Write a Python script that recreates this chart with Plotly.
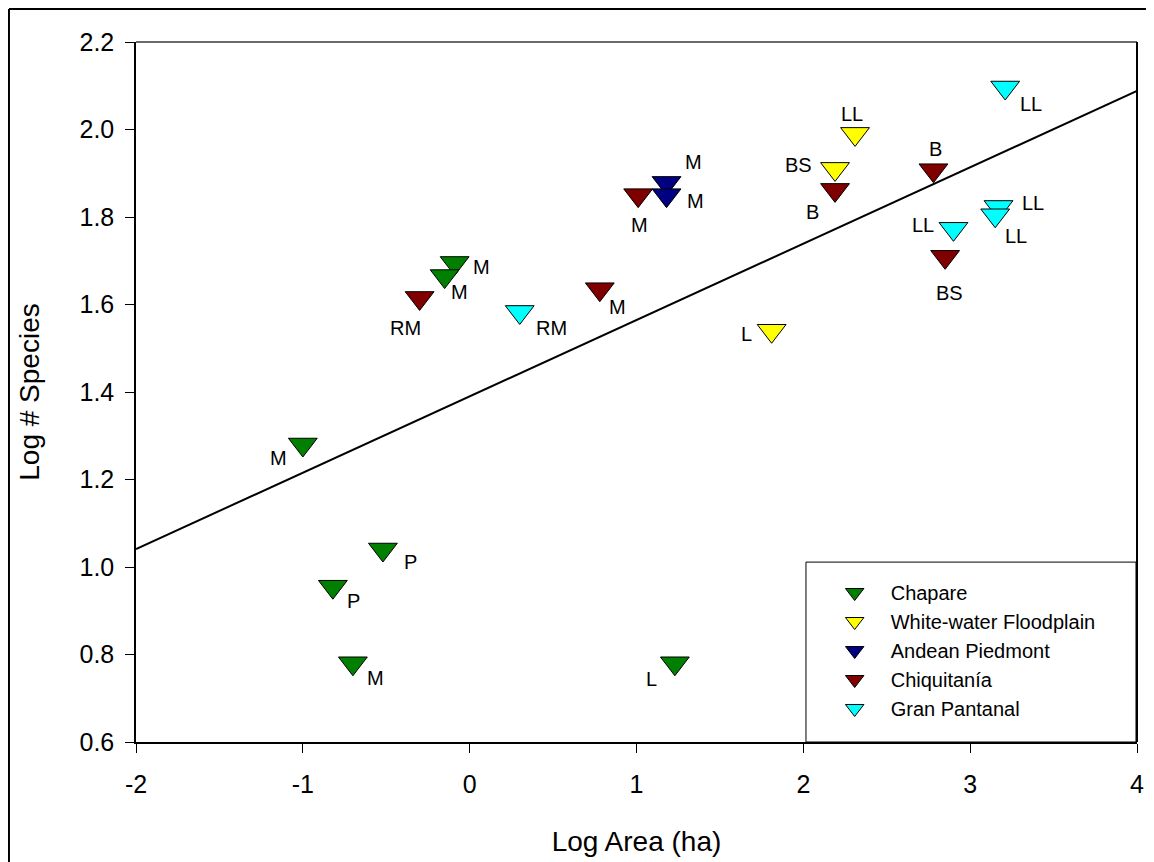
import plotly.graph_objects as go

# ---------------- data ----------------
series_names = ["Chapare", "White-water Floodplain", "Andean Piedmont", "Chiquitanía", "Gran Pantanal"]

chapare_x = [-1.00, -0.52, -0.82, -0.70, 1.23, -0.09, -0.15]
chapare_y = [1.28, 1.04, 0.955, 0.78, 0.78, 1.695, 1.665]
chapare_lbl = ["M", "P", "P", "M", "L", "M", "M"]

white_x = [2.31, 2.19, 1.81]
white_y = [1.99, 1.91, 1.54]
white_lbl = ["LL", "BS", "L"]

andean_x = [1.18, 1.18]
andean_y = [1.878, 1.850]
andean_lbl = ["M", "M"]

chiq_x = [-0.30, 0.78, 1.01, 2.19, 2.78, 2.85]
chiq_y = [1.615, 1.635, 1.850, 1.862, 1.907, 1.709]
chiq_lbl = ["RM", "M", "M", "B", "B", "BS"]

gran_x = [0.30, 3.21, 3.17, 3.15, 2.90]
gran_y = [1.583, 2.096, 1.823, 1.804, 1.773]
gran_lbl = ["RM", "LL", "LL", "LL", "LL"]

# regression line
fit_intercept = 1.390
fit_slope = 0.1745
fit_x = [-2, 4]

x_tickvals = [-2, -1, 0, 1, 2, 3, 4]
x_ticktext = ["-2", "-1", "0", "1", "2", "3", "4"]
y_tickvals = [0.6, 0.8, 1.0, 1.2, 1.4, 1.6, 1.8, 2.0, 2.2]
y_ticktext = ["0.6", "0.8", "1.0", "1.2", "1.4", "1.6", "1.8", "2.0", "2.2"]

# ---------------- styles ----------------
colors = ["#007F00", "#FFFF00", "#000080", "#800000", "#00FFFF"]
# label offsets in pixels (dx right, dy down) for each point label
label_offsets = [
    [(-24, 13), (28, 12), (21, 14), (23, 15), (-23, 16), (27, 4), (15, 16)],
    [(-3, -20), (-37, -4), (-25, 3)],
    [(27, -21), (29, 6)],
    [(-14, 30), (18, 18), (1, 30), (-23, 22), (2, -21), (4, 36)],
    [(32, 16), (26, 16), (34, -4), (21, 21), (-30, -4)],
]

FONT = "Liberation Sans, Arial, sans-serif"

all_x = [chapare_x, white_x, andean_x, chiq_x, gran_x]
all_y = [chapare_y, white_y, andean_y, chiq_y, gran_y]
all_lbl = [chapare_lbl, white_lbl, andean_lbl, chiq_lbl, gran_lbl]

fig = go.Figure()

fit_y = [fit_intercept + fit_slope * v for v in fit_x]
fig.add_trace(go.Scatter(x=fit_x, y=fit_y, mode="lines",
                         line=dict(color="black", width=2), showlegend=False,
                         hoverinfo="skip"))

for name, xs, ys, col in zip(series_names, all_x, all_y, colors):
    fig.add_trace(go.Scatter(
        x=xs, y=ys, mode="markers", name=name,
        marker=dict(symbol="triangle-down", size=25, color=col,
                    line=dict(color="black", width=1)),
    ))

annotations = []
for xs, ys, lbls, offs in zip(all_x, all_y, all_lbl, label_offsets):
    for xv, yv, t, (dx, dy) in zip(xs, ys, lbls, offs):
        annotations.append(dict(x=xv, y=yv, text=t, showarrow=False,
                                xshift=dx, yshift=-dy,
                                xanchor="center", yanchor="middle",
                                font=dict(family=FONT, size=20, color="black")))

# frame & legend box geometry (paper coords)
shapes = [
    # top frame line (gray)
    dict(type="line", xref="paper", yref="paper", x0=0, x1=1, y0=1, y1=1,
         line=dict(color="#6a6a6a", width=2), layer="above"),
    # right frame line
    dict(type="line", xref="paper", yref="paper", x0=1, x1=1, y0=0, y1=1,
         line=dict(color="black", width=2), layer="above"),
    # legend box
    dict(type="rect", xref="paper", yref="paper", x0=0.6693, x1=0.999, y0=0.0, y1=0.257,
         line=dict(color="black", width=1), fillcolor="white", layer="above"),
    # outer image border (top and left)
    dict(type="line", xref="paper", yref="paper", x0=-0.1269, x1=1.03, y0=1.0471, y1=1.0471,
         line=dict(color="black", width=2), layer="above"),
    dict(type="line", xref="paper", yref="paper", x0=-0.1269, x1=-0.1269, y0=1.0471, y1=-0.2,
         line=dict(color="black", width=2), layer="above"),
]

fig.update_layout(
    width=1154, height=862,
    margin=dict(l=128, r=25, t=34, b=128),
    paper_bgcolor="white", plot_bgcolor="white",
    font=dict(family=FONT, color="black"),
    showlegend=True,
    legend=dict(x=0.682, y=0.2414, xanchor="left", yanchor="top",
                bgcolor="rgba(0,0,0,0)", borderwidth=0,
                font=dict(family=FONT, size=20, color="black"),
                itemwidth=62, tracegroupgap=0),
    annotations=annotations,
    shapes=shapes,
    xaxis=dict(range=[-2, 4], tickvals=x_tickvals, ticktext=x_ticktext,
               showgrid=False, zeroline=False, showline=True,
               linecolor="black", linewidth=1.5, mirror=False,
               ticks="outside", ticklen=9, tickcolor="black", tickwidth=1,
               tickfont=dict(family=FONT, size=25, color="black"),
               ticklabelstandoff=10,
               title=dict(text="Log Area (ha)", font=dict(family=FONT, size=28, color="black"),
                          standoff=35)),
    yaxis=dict(range=[0.6, 2.2], tickvals=y_tickvals, ticktext=y_ticktext,
               showgrid=False, zeroline=False, showline=True,
               linecolor="black", linewidth=1.5, mirror=False,
               ticks="outside", ticklen=9, tickcolor="black", tickwidth=1,
               tickfont=dict(family=FONT, size=25, color="black"),
               ticklabelstandoff=6,
               title=dict(text="Log # Species", font=dict(family=FONT, size=28, color="black"),
                          standoff=32)),
)

fig.write_html("out.html")
